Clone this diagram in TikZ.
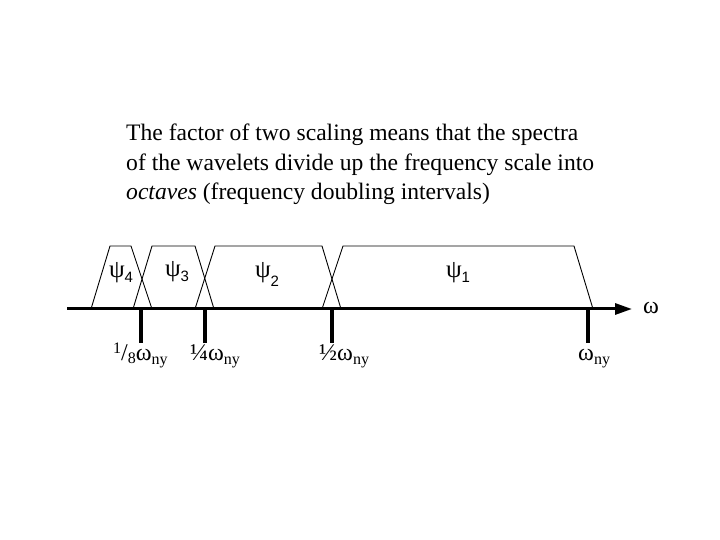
\documentclass[tikz,border=0pt]{standalone}
\usepackage{fontspec}
\setmainfont{Liberation Serif}
\newfontfamily\arialf{Liberation Sans}
\usetikzlibrary{arrows.meta}
\newcommand{\psisub}[2][-5pt]{ψ\raisebox{#1}{\arialf\fontsize{15}{15}\selectfont #2}}
\newcommand{\smallsz}[1]{{\fontsize{16}{16}\selectfont #1}}
\begin{document}
\begin{tikzpicture}[x=1pt,y=1pt,
  band/.style={line width=0.9pt},
  tickmark/.style={line width=4pt},
  axisline/.style={line width=3pt,-{Triangle[length=17pt,width=11pt]}},
  psilab/.style={font=\fontsize{25}{25}\selectfont, inner sep=0pt},
  ticklab/.style={font=\fontsize{24}{24}\selectfont, inner sep=0pt, anchor=base west},
  para/.style={font=\fontsize{23.6}{30}\selectfont, inner sep=0pt, anchor=base west}]
\useasboundingbox (0,0) rectangle (720,540);
% text
\node[para] (t1) at (126,399) {The factor of two scaling means that the spectra};
\node[para] (t2) at (126,369) {of the wavelets divide up the frequency scale into};
\node[para] (t3) at (126,340) {\textit{octaves} (frequency doubling intervals)};
% bands
\draw[band] (91,231) -- (110,294) -- (131,294) -- (152,231);
\draw[band] (133,231) -- (152,294) -- (195,294) -- (214,231);
\draw[band] (195,231) -- (215,294) -- (322,294) -- (341,231);
\draw[band] (322,231) -- (343,294) -- (574,294) -- (593,231);
% psi labels
\node[psilab] (p4) at (121,267) {\psisub{4}};
\node[psilab] (p3) at (177,268) {\psisub{3}};
\node[psilab] (p2) at (267,266) {\psisub[-9pt]{2}};
\node[psilab] (p1) at (458,267) {\psisub{1}};
% axis
\coordinate (a0) at (67,231);
\coordinate (a1) at (632,231);
\draw[axisline] (a0) -- (a1);
\node[inner sep=0pt, font=\fontsize{24}{24}\selectfont] (w) at (651,232) {ω};
% ticks
\coordinate (k1t) at (141,231); \coordinate (k1b) at (141,197);
\coordinate (k2t) at (205,231); \coordinate (k2b) at (205,197);
\coordinate (k3t) at (332,231); \coordinate (k3b) at (332,197);
\coordinate (k4t) at (588,231); \coordinate (k4b) at (588,197);
\draw[tickmark] (k1t) -- (k1b);
\draw[tickmark] (k2t) -- (k2b);
\draw[tickmark] (k3t) -- (k3b);
\draw[tickmark] (k4t) -- (k4b);
% tick labels
\node[ticklab] (l1) at (113,179) {\raisebox{7pt}{\smallsz{1}}/\raisebox{-3pt}{\smallsz{8}}ω\raisebox{-4pt}{\smallsz{ny}}};
\node[ticklab] (l2) at (190,179) {¼ω\raisebox{-4pt}{\smallsz{ny}}};
\node[ticklab] (l3) at (319,179) {½ω\raisebox{-4pt}{\smallsz{ny}}};
\node[ticklab] (l4) at (578,179) {ω\raisebox{-4pt}{\smallsz{ny}}};
\end{tikzpicture}
\end{document}
